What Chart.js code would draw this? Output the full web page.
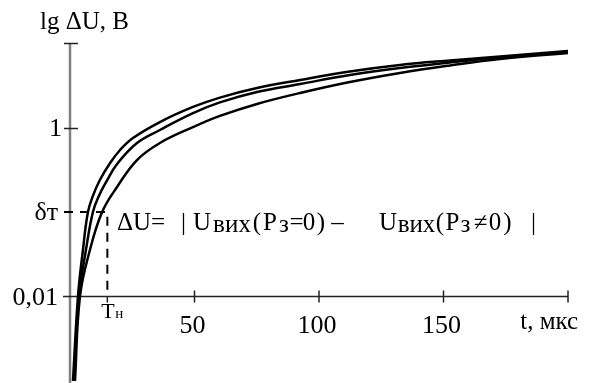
<!DOCTYPE html>
<html>
<head>
<meta charset="utf-8">
<script src="https://cdn.jsdelivr.net/npm/chart.js@4.4.1/dist/chart.umd.min.js"></script>
<style>
  html, body { margin: 0; padding: 0; background: #fff; }
</style>
</head>
<body>
<canvas id="chart" width="592" height="383"></canvas>
<script>
// t, мкс  /  ΔU, В (log scale)
const tUpper = [1.2, 3.2, 5.2, 7.2, 9.2, 12.0, 16.1, 20.1, 25.3, 36.1, 49.4, 60.2, 75.1, 92.4, 112.4, 132.5, 152.6, 172.7, 200]
const uUpper = [0.001, 0.01, 0.0355, 0.1, 0.155, 0.239, 0.38, 0.542, 0.751, 1.16, 1.75, 2.26, 2.93, 3.65, 4.6, 5.49, 6.21, 6.92, 8.04]

const tMiddle = [1.6, 3.6, 6.4, 9.2, 11.6, 14.5, 18.9, 26.9, 36.1, 49.4, 60.2, 75.1, 92.4, 112.4, 132.5, 152.6, 172.7, 200]
const uMiddle = [0.001, 0.01, 0.0355, 0.1, 0.155, 0.226, 0.37, 0.656, 0.934, 1.48, 1.98, 2.63, 3.27, 4.18, 5.06, 5.88, 6.73, 7.82]

const tLower = [2.0, 4.0, 8.0, 12.9, 18.9, 26.9, 36.1, 49.4, 60.2, 75.1, 92.4, 112.4, 132.5, 152.6, 172.7, 200]
const uLower = [0.001, 0.01, 0.0355, 0.1, 0.198, 0.412, 0.656, 1.01, 1.37, 1.9, 2.56, 3.45, 4.42, 5.42, 6.47, 7.62]

const xTicks = [50, 100, 150, 200]
const xTickLabels = ['50', '100', '150', '']
const yTicks = [10, 1]
const yTickLabels = ['', '1']
const tN = 15        // Tн
const deltaT = 0.1   // δт
const yBase = 0.01   // x axis crosses here

const FONT = '"Liberation Serif", "Times New Roman", serif'

function toPoints(ts, us) {
  return ts.map((t, i) => ({x: t, y: us[i]}))
}

// draw a piece of text stretched/centred inside [x1, x2]
function fitText(ctx, str, x1, x2, y) {
  const chars = Array.from(str)
  const w = ctx.measureText(str).width
  if (chars.length === 1 || w >= x2 - x1) {
    ctx.fillText(str, (x1 + x2) / 2 - w / 2, y)
    return
  }
  const extra = (x2 - x1 - w) / (chars.length - 1)
  let cx = x1
  chars.forEach(c => {
    ctx.fillText(c, cx, y)
    cx += ctx.measureText(c).width + extra
  })
}

const axesPlugin = {
  id: 'axes',
  beforeDatasetsDraw(chart) {
    const {ctx, scales: {x, y}} = chart
    const x0 = x.getPixelForValue(0)
    const yb = y.getPixelForValue(yBase)
    ctx.save()
    // y axis
    ctx.strokeStyle = '#808080'
    ctx.lineWidth = 2.5
    ctx.beginPath()
    ctx.moveTo(x0, y.getPixelForValue(10))
    ctx.lineTo(x0, chart.height)
    ctx.stroke()
    ctx.strokeStyle = '#222'
    ctx.lineWidth = 1.5
    yTicks.forEach(v => {
      const py = Math.round(y.getPixelForValue(v)) + 0.5
      ctx.beginPath()
      ctx.moveTo(x0 - 6, py)
      ctx.lineTo(x0 + 8, py)
      ctx.stroke()
    })
    // x axis
    ctx.beginPath()
    ctx.moveTo(x0 - 7, yb)
    ctx.lineTo(x.getPixelForValue(200), yb)
    ctx.stroke()
    xTicks.forEach(v => {
      const px = x.getPixelForValue(v)
      ctx.beginPath()
      ctx.moveTo(px, yb - 6)
      ctx.lineTo(px, yb + 6)
      ctx.stroke()
    })
    // Tн / δт guide
    const pxN = x.getPixelForValue(tN)
    const pyD = y.getPixelForValue(deltaT)
    ctx.beginPath()
    ctx.moveTo(pxN, yb)
    ctx.lineTo(pxN, yb + 6)
    ctx.stroke()
    ctx.lineWidth = 2
    ctx.strokeStyle = '#000'
    ctx.setLineDash([9, 7])
    ctx.beginPath()
    ctx.moveTo(x0 - 6, pyD)
    ctx.lineTo(pxN, pyD)
    ctx.lineTo(pxN, yb)
    ctx.stroke()
    ctx.restore()
  },
  afterDatasetsDraw(chart) {
    const {ctx, scales: {x, y}} = chart
    const x0 = x.getPixelForValue(0)
    const yb = y.getPixelForValue(yBase)
    ctx.save()
    ctx.fillStyle = '#000'
    ctx.font = '26px ' + FONT
    ctx.textBaseline = 'alphabetic'
    // y labels
    ctx.textAlign = 'right'
    yTicks.forEach((v, i) => {
      if (yTickLabels[i]) ctx.fillText(yTickLabels[i], x0 - 8, y.getPixelForValue(v) + 8)
    })
    ctx.fillText('0,01', x0 - 12, yb + 8)
    ctx.fillText('δт', x0 - 12, y.getPixelForValue(deltaT) + 8)
    ctx.textAlign = 'left'
    ctx.font = '25px ' + FONT
    ctx.fillText('lg ΔU, В', x0 - 30, 29)
    // x labels
    ctx.font = '26px ' + FONT
    ctx.textAlign = 'center'
    xTicks.forEach((v, i) => {
      if (xTickLabels[i]) ctx.fillText(xTickLabels[i], x.getPixelForValue(v) - 2, yb + 36)
    })
    ctx.textAlign = 'left'
    ctx.font = '25px ' + FONT
    ctx.fillText('t, мкс', x.getPixelForValue(180) + 2, yb + 32)
    const pxN = x.getPixelForValue(tN)
    ctx.font = '22px ' + FONT
    ctx.fillText('Т', pxN - 6, yb + 21)
    ctx.font = '15px ' + FONT
    ctx.fillText('н', pxN + 8, yb + 21)
    // formula
    ctx.font = '25px ' + FONT
    const base = 230
    const parts = [
      ['ΔU=', 117, 165, 0], ['|', 181, 186, 0], ['U', 192, 212, 0], ['вих', 213, 251, 2],
      ['(', 252, 262, 0], ['Р', 262, 278, 0], ['з', 278, 290, 2], ['=', 290, 303, 0],
      ['0', 303, 315, 0], [')', 315, 327, 0], ['–', 331, 344, 0],
      ['U', 378, 398, 0], ['вих', 399, 434, 2], ['(', 435, 445, 0], ['Р', 445, 460, 0],
      ['з', 460, 471, 2], ['≠', 473, 488, 0], ['0', 488, 502, 0], [')', 502, 513, 0],
      ['|', 531, 536, 0]
    ]
    parts.forEach(p => fitText(ctx, p[0], p[1], p[2], base + p[3]))
    ctx.restore()
  }
}

const ctx = document.getElementById('chart').getContext('2d')
const curveStyle = {
  borderColor: '#000',
  borderWidth: 2.5,
  pointRadius: 0,
  fill: false,
  tension: 0.4
}

new Chart(ctx, {
  type: 'line',
  data: {
    datasets: [
      {label: 'upper', data: toPoints(tUpper, uUpper), ...curveStyle},
      {label: 'middle', data: toPoints(tMiddle, uMiddle), ...curveStyle},
      {label: 'lower', data: toPoints(tLower, uLower), ...curveStyle}
    ]
  },
  options: {
    responsive: false,
    animation: false,
    devicePixelRatio: 1,
    layout: {padding: {left: 70, right: 24, top: 43, bottom: 2}},
    plugins: {legend: {display: false}, tooltip: {enabled: false}},
    scales: {
      x: {type: 'linear', min: 0, max: 200, display: false},
      y: {type: 'logarithmic', min: 0.001, max: 10, display: false}
    }
  },
  plugins: [axesPlugin]
})
</script>
</body>
</html>
